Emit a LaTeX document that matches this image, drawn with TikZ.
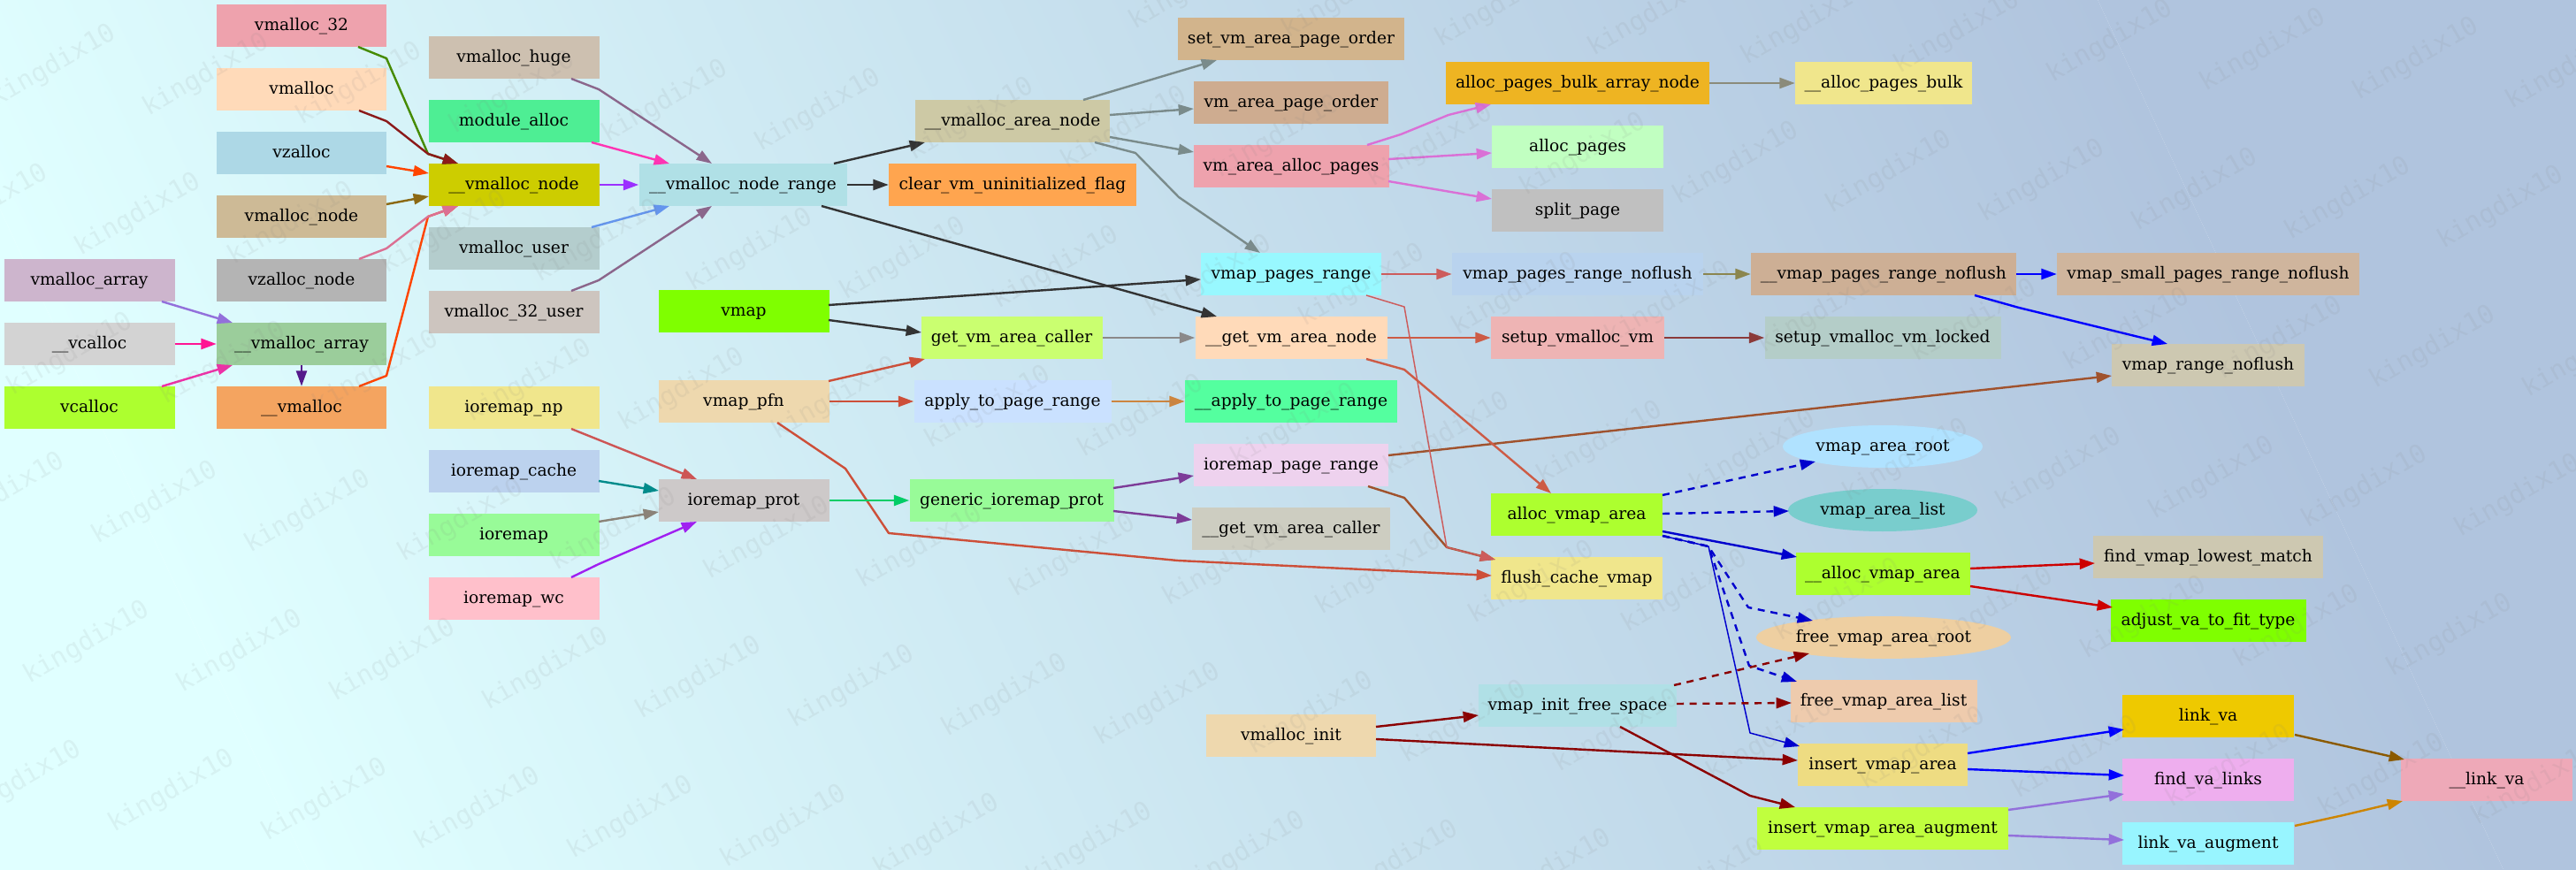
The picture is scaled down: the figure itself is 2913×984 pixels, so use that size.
\documentclass[tikz,border=0pt]{standalone}
\usepackage{fontspec}
\setmainfont{DejaVu Serif}
\newfontfamily\wmfont{DejaVu Sans Mono}
\usetikzlibrary{arrows.meta,shapes.geometric,calc}
\newcommand\defhex[1]{\definecolor{h#1}{HTML}{#1}}
% node fills
\defhex{CDB5CD}\defhex{D3D3D3}\defhex{ADFF2F}\defhex{EEA2AD}\defhex{FFDAB9}\defhex{ADD8E6}
\defhex{CDBA96}\defhex{B4B4B4}\defhex{9BCD9B}\defhex{F4A460}\defhex{CDC0B0}\defhex{4EEE94}
\defhex{CDCD00}\defhex{B4CDCD}\defhex{CDC5BF}\defhex{F0E68C}\defhex{BCD2EE}\defhex{98FB98}
\defhex{FFC0CB}\defhex{B0E0E6}\defhex{7FFF00}\defhex{EED8AE}\defhex{CDC9C9}\defhex{CDC9A5}
\defhex{FFA54F}\defhex{CAFF70}\defhex{CAE1FF}\defhex{D2B48C}\defhex{CEAC90}\defhex{98F8FF}
\defhex{54FF9F}\defhex{EED2EE}\defhex{CDCDC1}\defhex{EEB422}\defhex{C1FFC1}\defhex{C0C0C0}
\defhex{B9D3EE}\defhex{EEB4B4}\defhex{CDAF95}\defhex{B4CDC8}\defhex{B0E2FF}\defhex{79CDCD}
\defhex{EECFA1}\defhex{EECBAD}\defhex{EEDC82}\defhex{C0FF3E}\defhex{CFB59D}\defhex{CDC8B1}
\defhex{EEC900}\defhex{EEAEEE}\defhex{98F5FF}\defhex{EEA9B8}
% edge colours
\defhex{458B00}\defhex{8B1A1A}\defhex{FF4500}\defhex{8B6914}\defhex{DB7093}\defhex{9370DB}
\defhex{FF1493}\defhex{EE30A7}\defhex{551A8B}\defhex{8B668B}\defhex{FF34B3}\defhex{9B30FF}
\defhex{6495ED}\defhex{333333}\defhex{CD4F39}\defhex{7A8B8B}\defhex{8B8989}\defhex{CD853F}
\defhex{CD5555}\defhex{008B8B}\defhex{8B8378}\defhex{A020F0}\defhex{00CD66}\defhex{7D3C98}
\defhex{A0522D}\defhex{CD5C5C}\defhex{CD5B45}\defhex{8B3A3A}\defhex{8B864E}\defhex{0000FF}
\defhex{DA70D6}\defhex{8B8B7A}\defhex{0000CD}\defhex{CD0000}\defhex{8B0000}\defhex{8B5A00}
\defhex{CD8500}
\definecolor{bgA}{HTML}{E0FFFF}
\definecolor{bgB}{HTML}{B0C4DE}
\tikzset{
  bx/.style={rectangle, draw=none, minimum height=36pt, inner xsep=2pt, inner ysep=0pt,
    text height=11pt, text depth=3pt, font=\fontsize{14pt}{17pt}\selectfont},
  el/.style={ellipse, draw=none, minimum height=36pt, inner sep=0pt,
    text height=11pt, text depth=3pt, font=\fontsize{14pt}{17pt}\selectfont},
  wd/.style={minimum width=#1*0.75pt},
  e/.style={line width=1.8pt, line join=round, -{Triangle[length=13pt,width=9pt]}},
  ed/.style={e, dash pattern=on 6pt off 5pt},
  et/.style={e, line width=1.1pt},
  wm/.style={font=\wmfont\fontsize{22pt}{22pt}\selectfont, rotate=30, text=gray, opacity=0.1, inner sep=0pt}
}
\begin{document}
\begin{tikzpicture}[x=0.75pt,y=-0.75pt]
\useasboundingbox (0,0) rectangle (2913,984);
% background gradient
\begin{scope}
  \clip (0,0) rectangle (2913,984);
  \begin{scope}[transform canvas={rotate around={25:(0,0)}}]
    \fill[bgA] (-3000,-3000) rectangle (-100,4000);
    \shade[left color=bgA,right color=bgB] (-100,-3000) rectangle (2150,4000);
    \fill[bgB] (2150,-3000) rectangle (6000,4000);
  \end{scope}
\end{scope}

% column 1
\node[bx,wd=193,fill=hCDB5CD] (vmarray) at (101,317) {vmalloc\_array};
\node[bx,wd=193,fill=hD3D3D3] (ucalloc) at (101,389) {\_\_vcalloc};
\node[bx,wd=193,fill=hADFF2F] (vcalloc) at (101,461) {vcalloc};
% column 2
\node[bx,wd=192,fill=hEEA2AD] (v32) at (341,29) {vmalloc\_32};
\node[bx,wd=192,fill=hFFDAB9] (vmalloc) at (341,101) {vmalloc};
\node[bx,wd=192,fill=hADD8E6] (vzalloc) at (341,173) {vzalloc};
\node[bx,wd=192,fill=hCDBA96] (vmnode) at (341,245) {vmalloc\_node};
\node[bx,wd=192,fill=hB4B4B4] (vznode) at (341,317) {vzalloc\_node};
\node[bx,wd=192,fill=h9BCD9B] (uvmarray) at (341,389) {\_\_vmalloc\_array};
\node[bx,wd=192,fill=hF4A460] (uvmalloc) at (341,461) {\_\_vmalloc};
% column 3
\node[bx,wd=193,fill=hCDC0B0] (vmhuge) at (581,65) {vmalloc\_huge};
\node[bx,wd=193,fill=h4EEE94] (modalloc) at (581,137) {module\_alloc};
\node[bx,wd=193,fill=hCDCD00] (uvmnode) at (581,209) {\_\_vmalloc\_node};
\node[bx,wd=193,fill=hB4CDCD] (vmuser) at (581,281) {vmalloc\_user};
\node[bx,wd=193,fill=hCDC5BF] (v32user) at (581,353) {vmalloc\_32\_user};
\node[bx,wd=193,fill=hF0E68C] (ionp) at (581,461) {ioremap\_np};
\node[bx,wd=193,fill=hBCD2EE] (iocache) at (581,533) {ioremap\_cache};
\node[bx,wd=193,fill=h98FB98] (ioremap) at (581,605) {ioremap};
\node[bx,wd=193,fill=hFFC0CB] (iowc) at (581,677) {ioremap\_wc};
% column 4
\node[bx,wd=235,fill=hB0E0E6] (range) at (840,209) {\_\_vmalloc\_node\_range};
\node[bx,wd=193,fill=h7FFF00] (vmap) at (841,352) {vmap};
\node[bx,wd=193,fill=hEED8AE] (vmappfn) at (841,454) {vmap\_pfn};
\node[bx,wd=193,fill=hCDC9C9] (ioprot) at (841,566) {ioremap\_prot};
% column 5
\node[bx,wd=220,fill=hCDC9A5] (areanode) at (1145,137) {\_\_vmalloc\_area\_node};
\node[bx,wd=280,fill=hFFA54F] (clearflag) at (1145,209) {clear\_vm\_uninitialized\_flag};
\node[bx,wd=205,fill=hCAFF70] (gvac) at (1144,382) {get\_vm\_area\_caller};
\node[bx,wd=223,fill=hCAE1FF] (a2pr) at (1145,454) {apply\_to\_page\_range};
\node[bx,wd=231,fill=h98FB98] (gip) at (1144,566) {generic\_ioremap\_prot};
% column 6
\node[bx,wd=256,fill=hD2B48C] (setorder) at (1460,44) {set\_vm\_area\_page\_order};
\node[bx,wd=220,fill=hCEAC90] (pageorder) at (1460,116) {vm\_area\_page\_order};
\node[bx,wd=221,fill=hEEA2AD] (vmaap) at (1460,188) {vm\_area\_alloc\_pages};
\node[bx,wd=204,fill=h98F8FF] (vpr) at (1460,310) {vmap\_pages\_range};
\node[bx,wd=217,fill=hFFDAB9] (ugvan) at (1460,382) {\_\_get\_vm\_area\_node};
\node[bx,wd=240,fill=h54FF9F] (ua2pr) at (1460,454) {\_\_apply\_to\_page\_range};
\node[bx,wd=220,fill=hEED2EE] (iopr) at (1460,526) {ioremap\_page\_range};
\node[bx,wd=224,fill=hCDCDC1] (ugvac) at (1460,598) {\_\_get\_vm\_area\_caller};
\node[bx,wd=192,fill=hEED8AE] (vminit) at (1460,832) {vmalloc\_init};
% column 7
\node[bx,wd=298,fill=hEEB422] (bulk) at (1784,94) {alloc\_pages\_bulk\_array\_node};
\node[bx,wd=194,fill=hC1FFC1] (allocpages) at (1784,166) {alloc\_pages};
\node[bx,wd=194,fill=hC0C0C0] (splitpage) at (1784,238) {split\_page};
\node[bx,wd=284,fill=hB9D3EE] (vprn) at (1784,310) {vmap\_pages\_range\_noflush};
\node[bx,wd=196,fill=hEEB4B4] (setupvm) at (1784,382) {setup\_vmalloc\_vm};
\node[bx,wd=194,fill=hADFF2F] (avarea) at (1783,582) {alloc\_vmap\_area};
\node[bx,wd=194,fill=hF0E68C] (flushc) at (1783,654) {flush\_cache\_vmap};
\node[bx,wd=224,fill=hB0E0E6] (initfree) at (1784,798) {vmap\_init\_free\_space};
% column 8
\node[bx,wd=200,fill=hF0E68C] (ubulk) at (2130,94) {\_\_alloc\_pages\_bulk};
\node[bx,wd=300,fill=hCDAF95] (uvprn) at (2130,310) {\_\_vmap\_pages\_range\_noflush};
\node[bx,wd=267,fill=hB4CDC8] (locked) at (2129,382) {setup\_vmalloc\_vm\_locked};
\node[el,wd=226,fill=hB0E2FF] (varoot) at (2129,505) {vmap\_area\_root};
\node[el,wd=214,fill=h79CDCD] (valist) at (2129,577) {vmap\_area\_list};
\node[bx,wd=197,fill=hADFF2F] (uava) at (2129,649) {\_\_alloc\_vmap\_area};
\node[el,wd=288,fill=hEECFA1] (froot) at (2130,721) {free\_vmap\_area\_root};
\node[bx,wd=211,fill=hEECBAD] (flist) at (2130,793) {free\_vmap\_area\_list};
\node[bx,wd=192,fill=hEEDC82] (insert) at (2129,865) {insert\_vmap\_area};
\node[bx,wd=284,fill=hC0FF3E] (insaug) at (2129,937) {insert\_vmap\_area\_augment};
% column 9
\node[bx,wd=342,fill=hCFB59D] (small) at (2497,310) {vmap\_small\_pages\_range\_noflush};
\node[bx,wd=218,fill=hCDC8B1] (vrn) at (2497,413) {vmap\_range\_noflush};
\node[bx,wd=260,fill=hCDC8B1] (lowest) at (2497,630) {find\_vmap\_lowest\_match};
\node[bx,wd=221,fill=h7FFF00] (adjust) at (2497,702) {adjust\_va\_to\_fit\_type};
\node[bx,wd=194,fill=hEEC900] (linkva) at (2497,810) {link\_va};
\node[bx,wd=194,fill=hEEAEEE] (findlinks) at (2497,882) {find\_va\_links};
\node[bx,wd=194,fill=h98F5FF] (linkaug) at (2497,954) {link\_va\_augment};
% column 10
\node[bx,wd=194,fill=hEEA9B8] (ulinkva) at (2812,882) {\_\_link\_va};

% edges into __vmalloc_node
\draw[e,h458B00] ($(v32)+(64,24)$) -- (437,66) -- (484,174) -- ($(uvmnode)+(-63,-24)$);
\draw[e,h8B1A1A] ($(vmalloc)+(65,24)$) -- (437,137) -- (484,174) -- ($(uvmnode)+(-63,-24)$);
\draw[e,hFF4500] ($(vzalloc)+(96,15)$) -- ($(uvmnode)+(-96,-13)$);
\draw[e,h8B6914] ($(vmnode)+(96,-14)$) -- ($(uvmnode)+(-96,13)$);
\draw[e,hFF4500] ($(uvmalloc)+(65,-24)$) -- (437,425) -- (484,245) -- ($(uvmnode)+(-63,24)$);
\draw[e,hDB7093] ($(vznode)+(65,-24)$) -- (437,281) -- (484,245) -- ($(uvmnode)+(-63,24)$);
% __vmalloc_array
\draw[e,h9370DB] ($(vmarray)+(82,24)$) -- ($(uvmarray)+(-78,-24)$);
\draw[e,hFF1493] (ucalloc.east) -- (uvmarray.west);
\draw[e,hEE30A7] ($(vcalloc)+(82,-24)$) -- ($(uvmarray)+(-78,24)$);
\draw[e,h551A8B] (uvmarray.south) -- (uvmalloc.north);
% into __vmalloc_node_range
\draw[e,h8B668B] ($(vmhuge)+(65,24)$) -- (677,101) -- ($(range)+(-35,-24)$);
\draw[e,hFF34B3] ($(modalloc)+(88,24)$) -- ($(range)+(-83,-24)$);
\draw[e,h9B30FF] (uvmnode.east) -- (range.west);
\draw[e,h6495ED] ($(vmuser)+(88,-24)$) -- ($(range)+(-83,24)$);
\draw[e,h8B668B] ($(v32user)+(65,-24)$) -- (677,317) -- ($(range)+(-35,24)$);
% from __vmalloc_node_range
\draw[e,h333333] ($(range)+(103,-24)$) -- ($(areanode)+(-99,24)$);
\draw[e,h333333] (range.east) -- (clearflag.west);
\draw[e,h333333] ($(range)+(89,24)$) -- ($(ugvan)+(-84,-24)$);
% vmap
\draw[e,h333333] ($(vmap)+(96,-7)$) -- ($(vpr)+(-102,6)$);
\draw[e,h333333] ($(vmap)+(96,10)$) -- ($(gvac)+(-102,-6)$);
% vmap_pfn
\draw[e,hCD4F39] ($(vmappfn)+(96,-23)$) -- ($(gvac)+(-98,24)$);
\draw[e,hCD4F39] (vmappfn.east) -- (a2pr.west);
\draw[e,hCD4F39] ($(vmappfn)+(38,24)$) -- (956,530) -- (1005,603) -- (1332,634) -- ($(flushc)+(-96,-3)$);
% __vmalloc_area_node
\draw[e,h7A8B8B] ($(areanode)+(80,-24)$) -- ($(setorder)+(-84,24)$);
\draw[e,h7A8B8B] ($(areanode)+(110,-7)$) -- ($(pageorder)+(-110,7)$);
\draw[e,h7A8B8B] ($(areanode)+(110,18)$) -- ($(vmaap)+(-110,-16)$);
\draw[e,h7A8B8B] ($(areanode)+(93,24)$) -- (1284,173) -- (1333,223) -- ($(vpr)+(-35,-24)$);
% middle
\draw[e,h8B8989] (gvac.east) -- (ugvan.west);
\draw[e,hCD853F] (a2pr.east) -- (ua2pr.west);
% ioremap
\draw[e,hCD5555] ($(ionp)+(65,24)$) -- ($(ioprot)+(-53,-24)$);
\draw[e,h008B8B] ($(iocache)+(96,11)$) -- ($(ioprot)+(-96,-11)$);
\draw[e,h8B8378] ($(ioremap)+(96,-15)$) -- ($(ioprot)+(-96,13)$);
\draw[e,hA020F0] ($(iowc)+(65,-24)$) -- (677,638) -- ($(ioprot)+(-53,24)$);
\draw[e,h00CD66] (ioprot.east) -- (gip.west);
\draw[e,h7D3C98] ($(gip)+(115,-14)$) -- ($(iopr)+(-110,12)$);
\draw[e,h7D3C98] ($(gip)+(115,12)$) -- ($(ugvac)+(-112,-10)$);
\draw[e,hA0522D] ($(iopr)+(110,-11)$) -- ($(vrn)+(-109,12)$);
\draw[e,hA0522D] ($(iopr)+(87,24)$) -- (1588,563) -- (1636,619) -- ($(flushc)+(-92,-21)$);
% vmap_pages_range
\draw[e,hCD5C5C] (vpr.east) -- (vprn.west);
\draw[et,hCD5C5C] ($(vpr)+(85,24)$) -- (1588,347) -- (1636,619) -- ($(flushc)+(-92,-21)$);
% __get_vm_area_node
\draw[e,hCD5B45] (ugvan.east) -- (setupvm.west);
\draw[e,hCD5B45] ($(ugvan)+(85,24)$) -- (1588,418) -- ($(avarea)+(-29,-24)$);
\draw[e,h8B3A3A] (setupvm.east) -- (locked.west);
% noflush chain
\draw[e,h8B864E] (vprn.east) -- (uvprn.west);
\draw[e,h0000FF] (uvprn.east) -- (small.west);
\draw[e,h0000FF] ($(uvprn)+(103,24)$) -- (2283,348) -- ($(vrn)+(-46,-24)$);
% vm_area_alloc_pages
\draw[e,hDA70D6] ($(vmaap)+(86,-24)$) -- (1584,152) -- (1638,130) -- ($(bulk)+(-98,24)$);
\draw[e,hDA70D6] ($(vmaap)+(110,-8)$) -- ($(allocpages)+(-97,7)$);
\draw[e,hDA70D6] ($(vmaap)+(110,17)$) -- ($(splitpage)+(-97,-13)$);
\draw[e,h8B8B7A] (bulk.east) -- (ubulk.west);
% alloc_vmap_area
\draw[ed,h0000CD] ($(avarea)+(97,-22)$) -- ($(varoot)+(-76,17)$);
\draw[ed,h0000CD] ($(avarea)+(97,-1)$) -- ($(valist)+(-106,1)$);
\draw[e,h0000CD] ($(avarea)+(97,19)$) -- ($(uava)+(-97,-19)$);
\draw[ed,h0000CD] ($(avarea)+(97,24)$) -- (1932,618) -- (1977,687) -- ($(froot)+(-80,-19)$);
\draw[ed,h0000CD] ($(avarea)+(97,24)$) -- (1932,618) -- (1978,753) -- ($(flist)+(-98,-22)$);
\draw[et,h0000CD] ($(avarea)+(97,24)$) -- (1932,618) -- (1979,829) -- ($(insert)+(-94,-21)$);
% __alloc_vmap_area
\draw[e,hCD0000] ($(uava)+(99,-6)$) -- ($(lowest)+(-128,7)$);
\draw[e,hCD0000] ($(uava)+(99,14)$) -- ($(adjust)+(-108,-15)$);
% vmap_init_free_space / vmalloc_init
\draw[ed,h8B0000] ($(initfree)+(109,-23)$) -- ($(froot)+(-84,18)$);
\draw[ed,h8B0000] ($(initfree)+(112,-2)$) -- ($(flist)+(-104,2)$);
\draw[e,h8B0000] ($(initfree)+(48,24)$) -- (1979,900) -- ($(insaug)+(-99,-24)$);
\draw[e,h8B0000] ($(vminit)+(96,-10)$) -- ($(initfree)+(-112,11)$);
\draw[e,h8B0000] ($(vminit)+(96,4)$) -- ($(insert)+(-96,-5)$);
% insert
\draw[e,h0000FF] ($(insert)+(96,-13)$) -- ($(linkva)+(-95,15)$);
\draw[e,h0000FF] ($(insert)+(96,5)$) -- ($(findlinks)+(-95,-5)$);
\draw[e,h9370DB] ($(insaug)+(142,-21)$) -- ($(findlinks)+(-95,16)$);
\draw[e,h9370DB] ($(insaug)+(142,8)$) -- ($(linkaug)+(-95,-4)$);
\draw[e,h8B5A00] ($(linkva)+(98,21)$) -- ($(ulinkva)+(-93,-23)$);
\draw[e,hCD8500] ($(linkaug)+(98,-20)$) -- (2650,922) -- ($(ulinkva)+(-95,24)$);

% watermark
\begin{scope}
  \clip (0,0) rectangle (2913,984);
  \foreach \i in {-17,...,8}{
    \foreach \j in {-1,...,7}{
      \pgfmathsetmacro\wx{2386+173*\i-77*\j}
      \pgfmathsetmacro\wy{47+10*\i+158*\j}
      \pgfmathparse{((\wx>-30)&&(\wx<2940)&&(\wy>-15)&&(\wy<1000))?1:0}
      \ifdim\pgfmathresult pt>0.5pt
        \node[wm] (wm\i x\j) at (\wx,\wy) {kingdix10};
      \fi
    }
  }
\end{scope}
\end{tikzpicture}
\end{document}
